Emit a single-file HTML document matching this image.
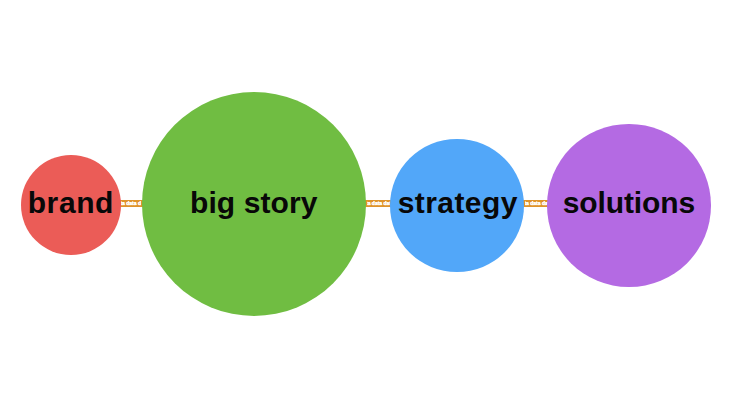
<!DOCTYPE html>
<html lang="en">
<head>
<meta charset="utf-8">
<title>brand – big story – strategy – solutions</title>
<style>
  html, body { margin: 0; padding: 0; background: #ffffff; }
  body { width: 731px; height: 410px; position: relative; overflow: hidden;
         font-family: "Liberation Sans", Arial, Helvetica, sans-serif; }
  .node { position: absolute; border-radius: 50%; }
  .label { position: absolute; font-weight: bold; font-size: 30px; line-height: 34px;
           height: 34px; color: #080808; text-align: left; white-space: nowrap; font-kerning: none; }
  .link { position: absolute; height: 7px; background: #df932b; overflow: hidden;
          color: #ffffff; font-weight: bold; font-size: 5px; line-height: 6px;
          white-space: nowrap; }
  .link .clip { position: absolute; top: 0; height: 7px; overflow: hidden; }
  .link span { position: absolute; top: 0; left: -6.4px; font-kerning: none; text-shadow: 0 0 0.4px #fff; -webkit-text-stroke: 0.25px #fff; }
  #n1 { left: 20.8px; top: 155px; width: 99.8px; height: 100px; background: #eb5c57; }
  #n2 { left: 142.45px; top: 91.5px; width: 223.9px; height: 224px; background: #70bd42; }
  #n3 { left: 390.3px; top: 138.5px; width: 133.9px; height: 133.5px; background: #52a7f9; }
  #n4 { left: 547.4px; top: 123.5px; width: 163.8px; height: 163.6px; background: #b46ae3; }
  #l1 { left: 118px; width: 27px; top: 200px; }
  #l2 { left: 363px; width: 30px; top: 200px; }
  #l3 { left: 521px; width: 30px; top: 200px; }
  #l1 .clip { left: 3px; width: 19.8px; }
  #l2 .clip { left: 3.6px; width: 23.4px; }
  #l3 .clip { left: 4px; width: 22.7px; }
  #t1 { left: 27.7px;  top: 186px; letter-spacing: 0.6px; }
  #t2 { left: 190.05px; top: 186px; letter-spacing: 0.08px; }
  #t3 { left: 397.65px; top: 186px; letter-spacing: 0.44px; }
  #t4 { left: 562.8px; top: 186px; letter-spacing: -0.12px; }
</style>
</head>
<body>
  <div class="link" id="l1"><div class="clip"><span>data data data data</span></div></div>
  <div class="link" id="l2"><div class="clip"><span>data data data data</span></div></div>
  <div class="link" id="l3"><div class="clip"><span>data data data data</span></div></div>
  <div class="node" id="n1"></div>
  <div class="node" id="n2"></div>
  <div class="node" id="n3"></div>
  <div class="node" id="n4"></div>
  <div class="label" id="t1">brand</div>
  <div class="label" id="t2">big story</div>
  <div class="label" id="t3">strategy</div>
  <div class="label" id="t4">solutions</div>
</body>
</html>
